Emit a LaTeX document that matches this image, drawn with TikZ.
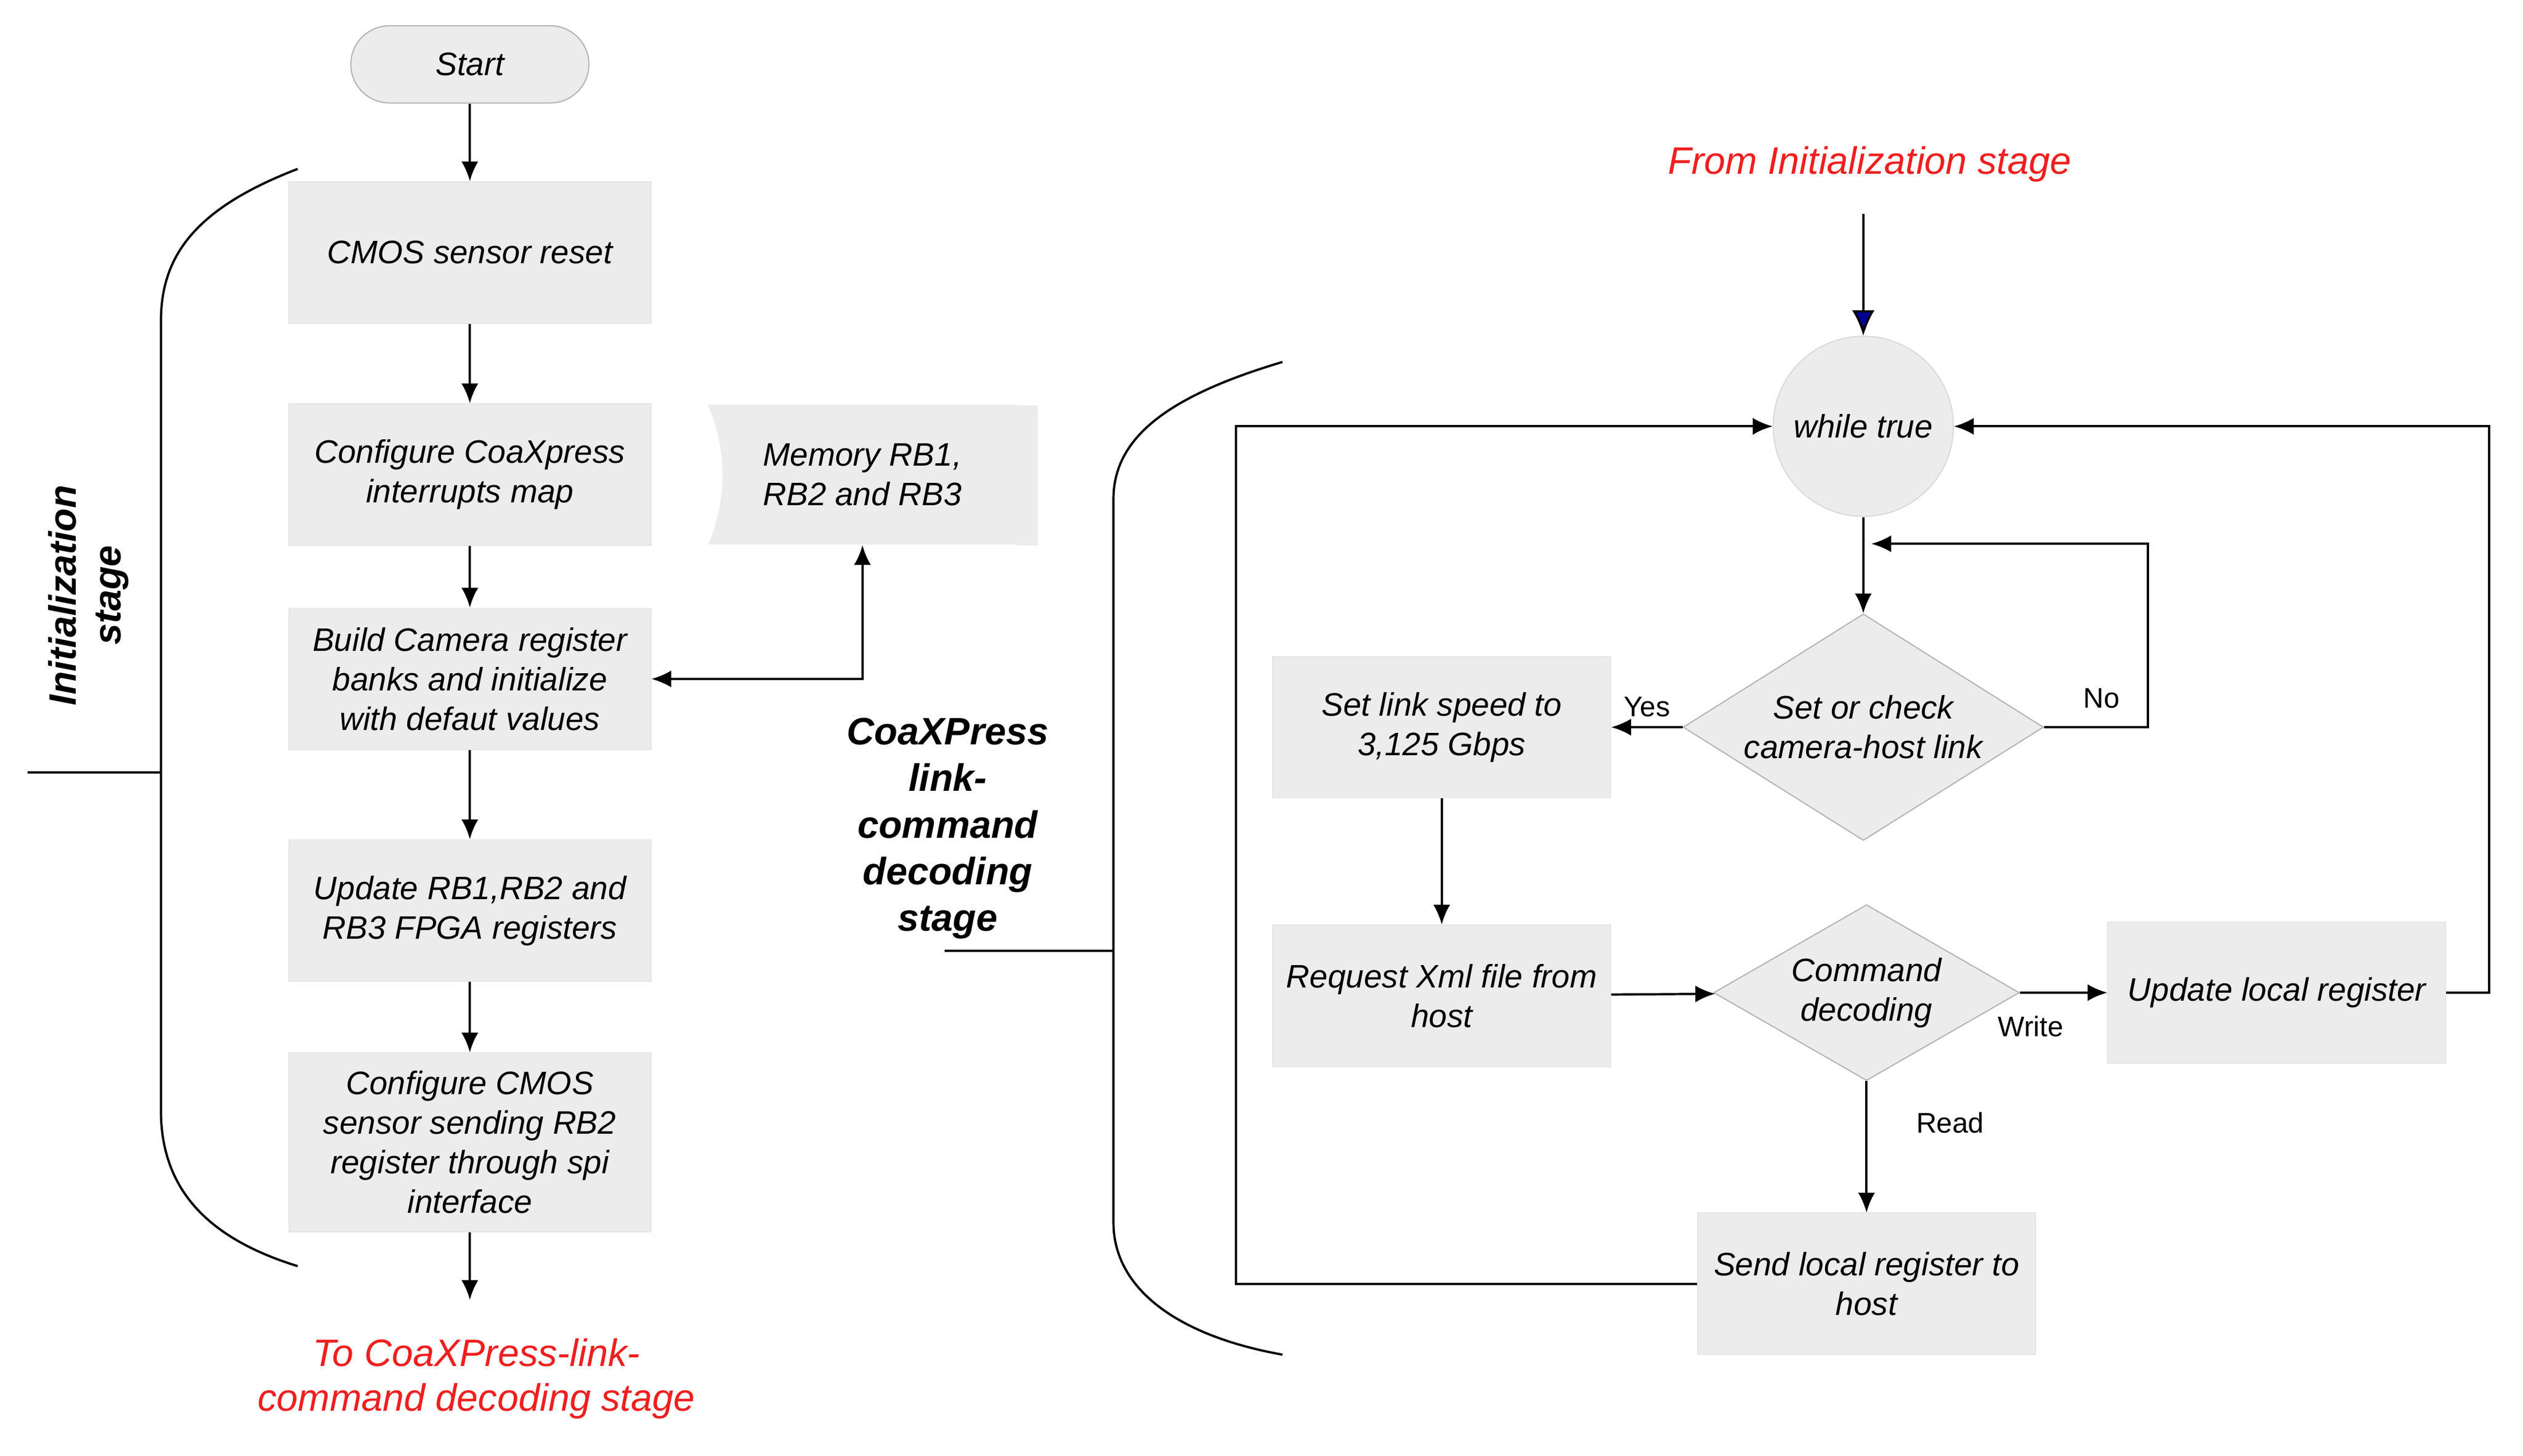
\documentclass[tikz,border=0pt]{standalone}
\usepackage{fontspec}
\setmainfont{Liberation Sans}
\usetikzlibrary{shapes.geometric,shapes.symbols,arrows.meta}

\begin{document}
\begin{tikzpicture}[x=0.02cm,y=-0.02cm,font=\fontsize{11.5}{14}\selectfont\itshape,
	box/.style={fill=boxgray,draw=gray!20,minimum width=4.2cm,minimum height=1.76cm,align=center,inner sep=2pt},
	cond/.style={diamond,fill=boxgray,draw=gray!60,aspect=1.55,inner sep=1pt,align=center},
	arr/.style={-{Latex[length=7pt,width=6pt]},thick},
	tag/.style={font=\fontsize{10}{12}\selectfont\upshape}]
	\definecolor{boxgray}{RGB}{236,236,236}
	\definecolor{redtext}{RGB}{240,30,30}
	\useasboundingbox (0,0) rectangle (1568,905);
	
	% initialization stage
	\node[fill=boxgray,draw=gray!60,rounded corners=0.48cm,minimum width=2.96cm,minimum height=0.96cm] (start) at (292,40) {Start};
	\node[box,minimum width=4.5cm] (reset) at (292,157) {CMOS sensor reset};
	\node[box,minimum width=4.5cm] (irq) at (292,295) {Configure CoaXpress\\interrupts map};
	\node[box,minimum width=4.5cm] (build) at (292,422) {Build Camera register\\banks and initialize\\with defaut values};
	\node[box,minimum width=4.5cm] (update) at (292,566) {Update RB1,RB2 and\\RB3 FPGA registers};
	\node[box,minimum width=4.5cm,minimum height=2.22cm] (spi) at (292,710) {Configure CMOS\\sensor sending RB2\\register through spi\\interface};
	\node[fill=boxgray,tape,tape bend top=none,tape bend bottom=none,minimum width=3.84cm,minimum height=1.74cm,align=center] (mem) at (536,295) {Memory RB1,\\RB2 and RB3};
	\fill[white] (440,252) .. controls (452,280) and (452,310) .. (440,339) -- (430,339) -- (430,252) -- cycle;
	\fill[boxgray] (632,252) .. controls (620,280) and (620,310) .. (632,339) -- (645,339) -- (645,252) -- cycle;
	\coordinate (out) at (292,808);
	\node[text=redtext,align=center,font=\fontsize{13.5}{16}\selectfont\upshape\itshape] (tostage) at (296,857) {To CoaXPress-link-\\command decoding stage};
	
	\draw[arr] (start) -- (reset);
	\draw[arr] (reset) -- (irq);
	\draw[arr] (irq) -- (build);
	\draw[arr] (build) -- (update);
	\draw[arr] (update) -- (spi);
	\draw[arr] (spi) -- (out);
	\draw[{Latex[length=7pt,width=6pt]}-{Latex[length=7pt,width=6pt]},thick] (build.east) -| (mem.south);
	
	\draw[thick] (185,105) .. controls (120,130) and (100,160) .. (100,200) -- (100,690) .. controls (100,740) and (130,770) .. (185,787);
	\draw[thick] (17,480) -- (100,480);
	\node[rotate=90,align=center,font=\fontsize{13.5}{16}\selectfont\bfseries\itshape] (initlabel) at (55,370) {Initialization\\stage};
	
	% link-command decoding stage
	\node[text=redtext,font=\fontsize{13.5}{16}\selectfont\itshape] (fromstage) at (1162,102) {From Initialization stage};
	\coordinate (in) at (1158,133);
	\node[circle,fill=boxgray,draw=gray!30,minimum size=2.24cm] (loop) at (1158,265) {while true};
	\node[cond,minimum width=4.48cm] (check) at (1158,452) {Set or check\\camera-host link};
	\node[box] (speed) at (896,452) {Set link speed to\\3,125 Gbps};
	\node[box] (xml) at (896,619) {Request Xml file from\\host};
	\node[cond,minimum width=3.8cm] (decode) at (1160,617) {Command\\decoding};
	\node[box] (local) at (1415,617) {Update local register};
	\node[box] (send) at (1160,798) {Send local register to\\host};
	\coordinate (nocorner) at (1335,338);
	
	\draw[arr,-{Latex[length=9pt,width=8pt,fill=blue!60!black]}] (in) -- (loop);
	\draw[arr] (loop) -- (check);
	\draw[arr] (check.east) -- (check.east -| nocorner) -- (nocorner) -- (1163,338);
	\draw[arr] (check) -- node[tag,above,pos=0.5] {Yes} (speed);
	\node[tag] (nolabel) at (1306,434) {No};
	\draw[arr] (speed) -- (xml);
	\draw[arr] (xml) -- (decode);
	\draw[arr] (decode) -- (local);
	\node[tag] (writelabel) at (1262,638) {Write};
	\draw[arr] (decode) -- (send);
	\node[tag] (readlabel) at (1212,698) {Read};
	\draw[arr] (send.west) -- (768,798) -- (768,265) -- (loop.west);
	\draw[arr] (local.east) -- (1547,617) -- (1547,265) -- (loop.east);
	
	\draw[thick] (797,225) .. controls (730,245) and (692,270) .. (692,310) -- (692,760) .. controls (692,800) and (730,830) .. (797,842);
	\draw[thick] (587,591) -- (692,591);
	\node[align=center,font=\fontsize{13.5}{16.5}\selectfont\bfseries\itshape] (decodelabel) at (589,515) {CoaXPress\\link-\\command\\decoding\\stage};
\end{tikzpicture}
\end{document}
